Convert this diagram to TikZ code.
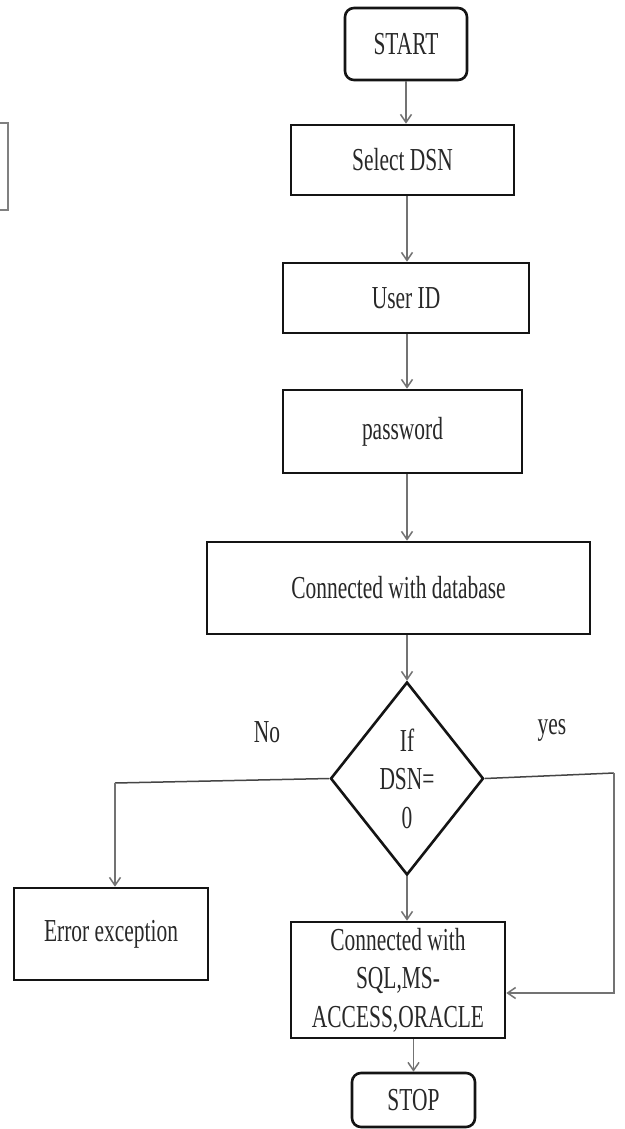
\documentclass[tikz,border=0pt]{standalone}
\usepackage{fontspec}
\setmainfont{Liberation Serif}[FakeStretch=0.67]
\usetikzlibrary{shapes.geometric,arrows.meta}
\definecolor{txt}{RGB}{40,40,40}
\definecolor{lineg}{RGB}{115,115,115}
\definecolor{edge}{RGB}{20,20,20}
\newcommand{\flowfont}{\fontsize{32}{38.4}\selectfont}
\tikzset{
  box/.style={draw=edge, line width=2.6pt, rectangle, inner sep=0pt,
              align=center, text=txt, font=\flowfont},
  rbox/.style={box, rounded corners=9pt},
  decision/.style={box, diamond, aspect=0.79},
  conn/.style={draw=lineg, line width=1.6pt,
               -{Straight Barb[length=8pt,width=11pt,line width=1.5pt]}},
  branch/.style={draw=lineg!60!black, line width=1.5pt},
  lbl/.style={text=txt, font=\flowfont, inner sep=0pt}
}
\begin{document}
\begin{tikzpicture}[x=1pt,y=-1pt]
  \useasboundingbox (0,0) rectangle (624,1129);
  \fill[white] (0,0) rectangle (624,1129);

  % fragment of a box at the left margin
  \draw[draw=gray, line width=2pt] (-3,123) -- (8,123) -- (8,210) -- (-3,210);

  % main column
  \node[rbox, minimum width=122, minimum height=72] (start) at (406,44) {START};
  \node[box, minimum width=223, minimum height=70] (sel) at (402.5,160) {Select DSN};
  \node[box, minimum width=246, minimum height=70] (uid) at (406,298) {User ID};
  \node[box, minimum width=239, minimum height=83] (pwd) at (402.5,431.5) {password};
  \node[box, minimum width=383, minimum height=92] (db) at (398.5,588) {Connected with database};
  \node[decision, minimum width=153, minimum height=193] (dec) at (407,778.5)
       {If\\DSN=\\0};
  \node[box, minimum width=194, minimum height=92] (err) at (111,934) {Error exception};
  \node[box, minimum width=214, minimum height=116] (sql) at (398,980)
       {Connected with\\SQL,MS-\\ACCESS,ORACLE};
  \node[rbox, minimum width=123, minimum height=54] (stop) at (413.5,1100) {STOP};

  % branch labels
  \node[lbl] (nolbl) at (267,732) {No};
  \node[lbl] (yeslbl) at (552,730) {yes};

  % helper coordinates for the flow lines
  \coordinate (spine) at (407,0);
  \coordinate (nocorner) at (115,783);
  \coordinate (yescorner) at (614,773);
  \coordinate (yesdown) at (614,993);

  % straight flow
  \draw[conn] (start.south) -- (start.south |- sel.north);
  \draw[conn] (spine |- sel.south) -- (spine |- uid.north);
  \draw[conn] (spine |- uid.south) -- (spine |- pwd.north);
  \draw[conn] (spine |- pwd.south) -- (spine |- db.north);
  \draw[conn] (spine |- db.south) -- (dec.north);
  \draw[conn] (dec.south) -- (dec.south |- sql.north);
  \draw[conn] (stop.north |- sql.south) -- (stop.north);

  % decision branches
  \draw[branch] (dec.west) -- (nocorner);
  \draw[conn] (nocorner) -- (nocorner |- err.north);
  \draw[branch] (dec.east) -- (yescorner);
  \draw[conn] (yescorner) -- (yesdown) -- (sql.east |- yesdown);
\end{tikzpicture}
\end{document}
